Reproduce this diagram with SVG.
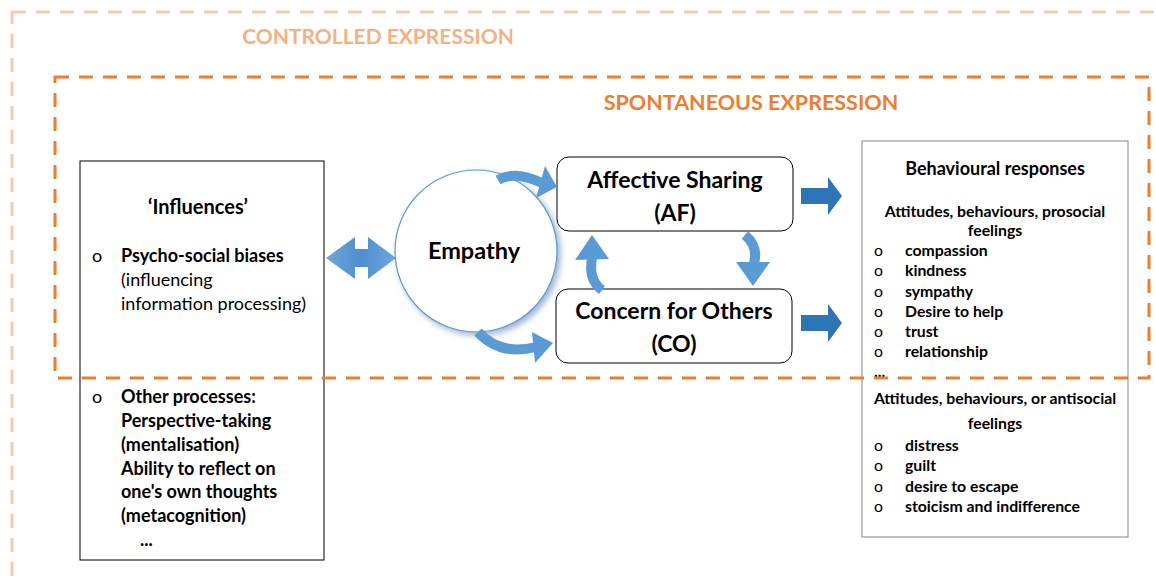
<svg xmlns="http://www.w3.org/2000/svg" width="1156" height="585" viewBox="0 0 1156 585">
<defs>
<style>
text{font-family:"Lato","Open Sans","Liberation Sans",sans-serif;fill:#000}
.b{font-weight:bold}
.n{font-weight:normal}
.box{fill:#fff;stroke:#000;stroke-width:1}
.rbox{fill:#fff;stroke:#999;stroke-width:1.2}
.curv{fill:none;stroke:#5b9bd5;stroke-width:10}
.head{fill:#5b9bd5}
.dark{fill:#2e75b6}
.t16{font-size:18px}
.t14{font-size:15.8px}
</style>
<filter id="sh" x="-20%" y="-20%" width="150%" height="150%">
<feDropShadow dx="3" dy="3" stdDeviation="3" flood-color="#5b7fb0" flood-opacity="0.6"/>
</filter>
<linearGradient id="dg" x1="0" y1="0" x2="1" y2="0">
<stop offset="0" stop-color="#6fa5d9"/><stop offset="0.5" stop-color="#4f8fcf"/><stop offset="1" stop-color="#6fa5d9"/>
</linearGradient>
</defs>

<g id="controlled">
<rect x="12" y="12" width="1170" height="600" fill="none" stroke="#f8cbad" stroke-width="3" stroke-dasharray="14 10"/>
<text x="378" y="44" text-anchor="middle" class="b" font-size="21" style="fill:#f4b183">CONTROLLED EXPRESSION</text>
</g>

<g id="influences">
<rect class="box" x="80" y="161" width="244" height="399"/>
<text x="198" y="214" text-anchor="middle" class="b" font-size="20">‘Influences’</text>
<text x="92" y="262" class="t16 n">o</text>
<text x="121" y="262" class="t16 b">Psycho-social biases</text>
<text x="121" y="286" class="t16">(influencing</text>
<text x="121" y="310" class="t16">information processing)</text>
<text x="92" y="403" class="t16 n">o</text>
<text x="121" y="403" class="t16 b">Other processes:</text>
<text x="121" y="427" class="t16 b">Perspective-taking</text>
<text x="121" y="451" class="t16 b">(mentalisation)</text>
<text x="121" y="475" class="t16 b">Ability to reflect on</text>
<text x="121" y="498" class="t16 b">one's own thoughts</text>
<text x="121" y="522" class="t16 b">(metacognition)</text>
<text x="140" y="546" class="t16 b">...</text>
</g>

<g id="empathy">
<circle cx="476" cy="251" r="81" fill="#fff" stroke="#5b9bd5" stroke-width="1.2" filter="url(#sh)"/>
<text x="474" y="259" text-anchor="middle" class="b" font-size="23.5">Empathy</text>
</g>

<g id="affective">
<rect class="box" x="557" y="157" width="236" height="74" rx="12"/>
<text x="675" y="188" text-anchor="middle" class="b" font-size="23">Affective Sharing</text>
<text x="675" y="221" text-anchor="middle" class="b" font-size="23">(AF)</text>
</g>

<g id="concern">
<rect class="box" x="556" y="289" width="236" height="74" rx="12"/>
<text x="674" y="319" text-anchor="middle" class="b" font-size="23">Concern for Others</text>
<text x="674" y="352" text-anchor="middle" class="b" font-size="23">(CO)</text>
</g>

<g id="responses">
<rect class="rbox" x="862" y="141" width="266" height="396"/>
<text x="995" y="175" text-anchor="middle" class="b" font-size="18">Behavioural responses</text>
<text x="995" y="217" text-anchor="middle" class="b t14">Attitudes, behaviours, prosocial</text>
<text x="995" y="236" text-anchor="middle" class="b t14">feelings</text>
<g class="t14 b">
<text x="874" y="256" class="n">o</text><text x="905" y="256">compassion</text>
<text x="874" y="276" class="n">o</text><text x="905" y="276">kindness</text>
<text x="874" y="297" class="n">o</text><text x="905" y="297">sympathy</text>
<text x="874" y="317" class="n">o</text><text x="905" y="317">Desire to help</text>
<text x="874" y="337" class="n">o</text><text x="905" y="337">trust</text>
<text x="874" y="357" class="n">o</text><text x="905" y="357">relationship</text>
<text x="874" y="377">...</text>
<text x="995" y="404" text-anchor="middle">Attitudes, behaviours, or antisocial</text>
<text x="995" y="429" text-anchor="middle">feelings</text>
<text x="874" y="451" class="n">o</text><text x="905" y="451">distress</text>
<text x="874" y="471" class="n">o</text><text x="905" y="471">guilt</text>
<text x="874" y="492" class="n">o</text><text x="905" y="492">desire to escape</text>
<text x="874" y="512" class="n">o</text><text x="905" y="512">stoicism and indifference</text>
</g>
</g>

<g id="spontaneous">
<rect x="55" y="77" width="1094" height="301" fill="none" stroke="#ed7d31" stroke-width="3" stroke-dasharray="14 10"/>
<text x="751" y="110" text-anchor="middle" class="b" font-size="21.5" style="fill:#ed7d31">SPONTANEOUS EXPRESSION</text>
</g>

<g id="connectors">
<polygon fill="url(#dg)" points="326,258 355,237 355,249 368,249 368,237 396,258 368,279 368,267 355,267 355,279"/>
<path class="curv" d="M498,180 Q515,170 542,183"/>
<polygon class="head" points="545,166 557,187 536,198"/>
<path class="curv" d="M478,332 Q500,356 536,347"/>
<polygon class="head" points="532,332 553,343 535,363"/>
<path class="curv" d="M745,235 Q760,248 753,266"/>
<polygon class="head" points="736,262 770,262 753,286"/>
<path class="curv" d="M602,290 Q588,280 592,258"/>
<polygon class="head" points="575,260 609,259 592,235"/>
<polygon class="dark" points="801,188 828,188 828,177 842,196 828,215 828,204 801,204"/>
<polygon class="dark" points="801,315 828,315 828,304 842,323 828,342 828,331 801,331"/>
</g>
</svg>
